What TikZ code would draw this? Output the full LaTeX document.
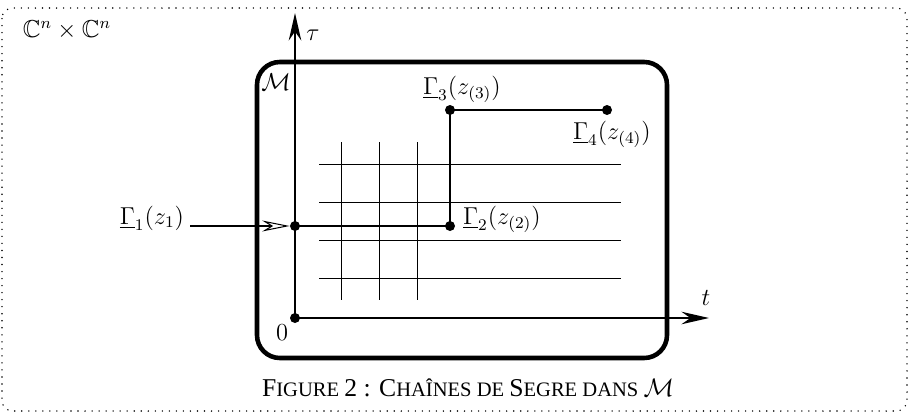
\documentclass[tikz,border=0pt]{standalone}
\usepackage{amsmath,amssymb}
\usepackage{fontspec}
\newfontfamily\capfont{Liberation Serif}
\usetikzlibrary{arrows.meta,positioning}

\newcommand{\bigsc}{\fontsize{14.6}{17}\selectfont}
\newcommand{\smallsc}{\fontsize{11.7}{17}\selectfont}
\newcommand{\mlabel}[1]{\scalebox{1.16}{$#1$}}

\begin{document}
\begin{tikzpicture}[x=0.02cm, y=-0.02cm, every node/.style={font=\large}]
\tikzstyle{pt} = [circle, fill=black, inner sep=0pt, minimum size=0.2cm]
\tikzstyle{chain} = [line width=1.5pt]
\tikzstyle{axis} = [line width=1pt, -{Stealth[length=0.55cm, width=0.25cm]}]
\tikzstyle{grid} = [line width=0.55pt]
\tikzstyle{openarrow} = [line width=0.6pt, -{Stealth[open, length=0.55cm, width=0.22cm]}]

\useasboundingbox (0,0) rectangle (909,416);
% ambient space
\draw[line width=0.9pt, line cap=round, dash pattern=on 0pt off 4pt, rounded corners=6pt] (2,8) rectangle (907,411);
\node (space) at (67,30) {\mlabel{\mathbb{C}^n\times\mathbb{C}^n}};

% the manifold M
\draw[line width=2.6pt, rounded corners=13pt] (257,62) rectangle (667,358);
\node (mlab) at (276,82) {\mlabel{\mathcal{M}}};

% grid
\foreach \y in {164,202,240,278}
  \draw[grid] (319,\y) -- (621,\y);
\foreach \x in {341,379,417}
  \draw[grid] (\x,142) -- (\x,300);

% axes
\node (o) [pt] at (295,318) {};
\coordinate (tauend) at (295,13);
\coordinate (tend) at (709,318);
\draw[axis] (o.center) -- (tauend);
\draw[axis] (o.center) -- (tend);
\node (tau) at (313,35) {\mlabel{\tau}};
\node (t) at (706,298) {\mlabel{t}};
\node (zero) at (282,333) {\mlabel{0}};

% Segre chain
\node (g1) [pt] at (295,226) {};
\node (g2) [pt] at (450,226) {};
\node (g3) [pt] at (450,110) {};
\node (g4) [pt] at (607,110) {};
\draw[chain] (g1.center) -- (g2.center) -- (g3.center) -- (g4.center);

\node (l1) at (152,218) {\mlabel{\underline{\Gamma}_1(z_1)}};
\node (l2) at (502,219) {\mlabel{\underline{\Gamma}_2(z_{(2)})}};
\node (l3) at (462,89) {\mlabel{\underline{\Gamma}_3(z_{(3)})}};
\node (l4) at (612,134) {\mlabel{\underline{\Gamma}_4(z_{(4)})}};
\draw[openarrow] (l1.east |- g1) -- (g1);

% caption
\node (cap) at (468,388) {\capfont\bigsc F\smallsc IGURE \bigsc 2 : C\smallsc HAÎNES DE \bigsc S\smallsc EGRE DANS \bigsc $\mathcal{M}$};
\end{tikzpicture}
\end{document}
